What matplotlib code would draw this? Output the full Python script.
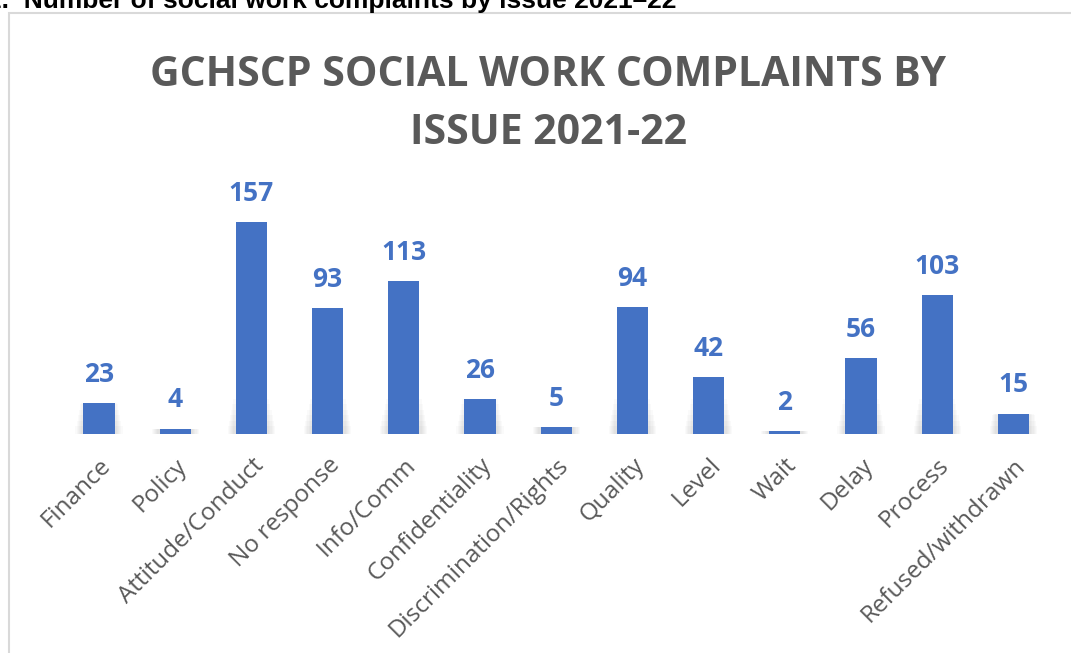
import matplotlib.pyplot as plt
from matplotlib.patches import Rectangle

categories = ["Finance", "Policy", "Attitude/Conduct", "No response", "Info/Comm",
              "Confidentiality", "Discrimination/Rights", "Quality", "Level", "Wait",
              "Delay", "Process", "Refused/withdrawn"]
complaints = [23, 4, 157, 93, 113, 26, 5, 94, 42, 2, 56, 103, 15]

bar_color = "#4472C4"
text_gray = "#595959"

fig = plt.figure(figsize=(10.71, 6.53), dpi=100)

# outer chart frame (cut off on the right and bottom like the screenshot)
fig.patches.append(Rectangle((9 / 1071, -0.05), 1.2, 1 - 13 / 653 + 0.05,
                             transform=fig.transFigure, fill=False,
                             edgecolor="#d9d9d9", linewidth=1.5))

# document caption, partly cropped at the top
fig.text(-0.012, 1 - 8 / 653, "2.  Number of social work complaints by issue 2021\u201322",
         fontsize=19, fontweight="bold", family="Liberation Sans", color="black",
         ha="left", va="baseline")

ax = fig.add_axes([60.9 / 1071, 219 / 653, 990.6 / 1071, 243 / 653])
x = range(len(categories))

# soft shadow around the bottom of the bars
for k in range(6):
    h = [min(v, 6 + 4 * k) for v in complaints]
    ax.bar(x, h, width=0.62 - 0.03 * k, color="black", alpha=0.018, zorder=1, linewidth=0)
ax.bar(x, complaints, width=0.41, color=bar_color, zorder=3)

for i, v in zip(x, complaints):
    ax.annotate(str(v), (i, v), xytext=(0, 11), textcoords="offset points",
                ha="center", va="bottom", fontsize=19, fontweight="bold",
                color=bar_color, family="Open Sans")

ax.set_xlim(-0.5, len(categories) - 0.5)
ax.set_ylim(0, 180)
ax.set_xticks(list(x))
ax.set_xticklabels(categories, rotation=45, ha="right", va="top",
                   rotation_mode="anchor", fontsize=17.5, color=text_gray,
                   family="Open Sans")
ax.tick_params(axis="x", length=0, pad=14)
ax.set_yticks([])
for s in ax.spines.values():
    s.set_visible(False)

fig.text(548 / 1071, 1 - 86 / 653, "GCHSCP SOCIAL WORK COMPLAINTS BY",
         ha="center", va="baseline", fontsize=29.5, fontweight="bold", color=text_gray,
         family="Open Sans")
fig.text(548 / 1071, 1 - 144 / 653, "ISSUE 2021-22",
         ha="center", va="baseline", fontsize=29.5, fontweight="bold", color=text_gray,
         family="Open Sans")

fig.savefig("out.png", dpi=100)
